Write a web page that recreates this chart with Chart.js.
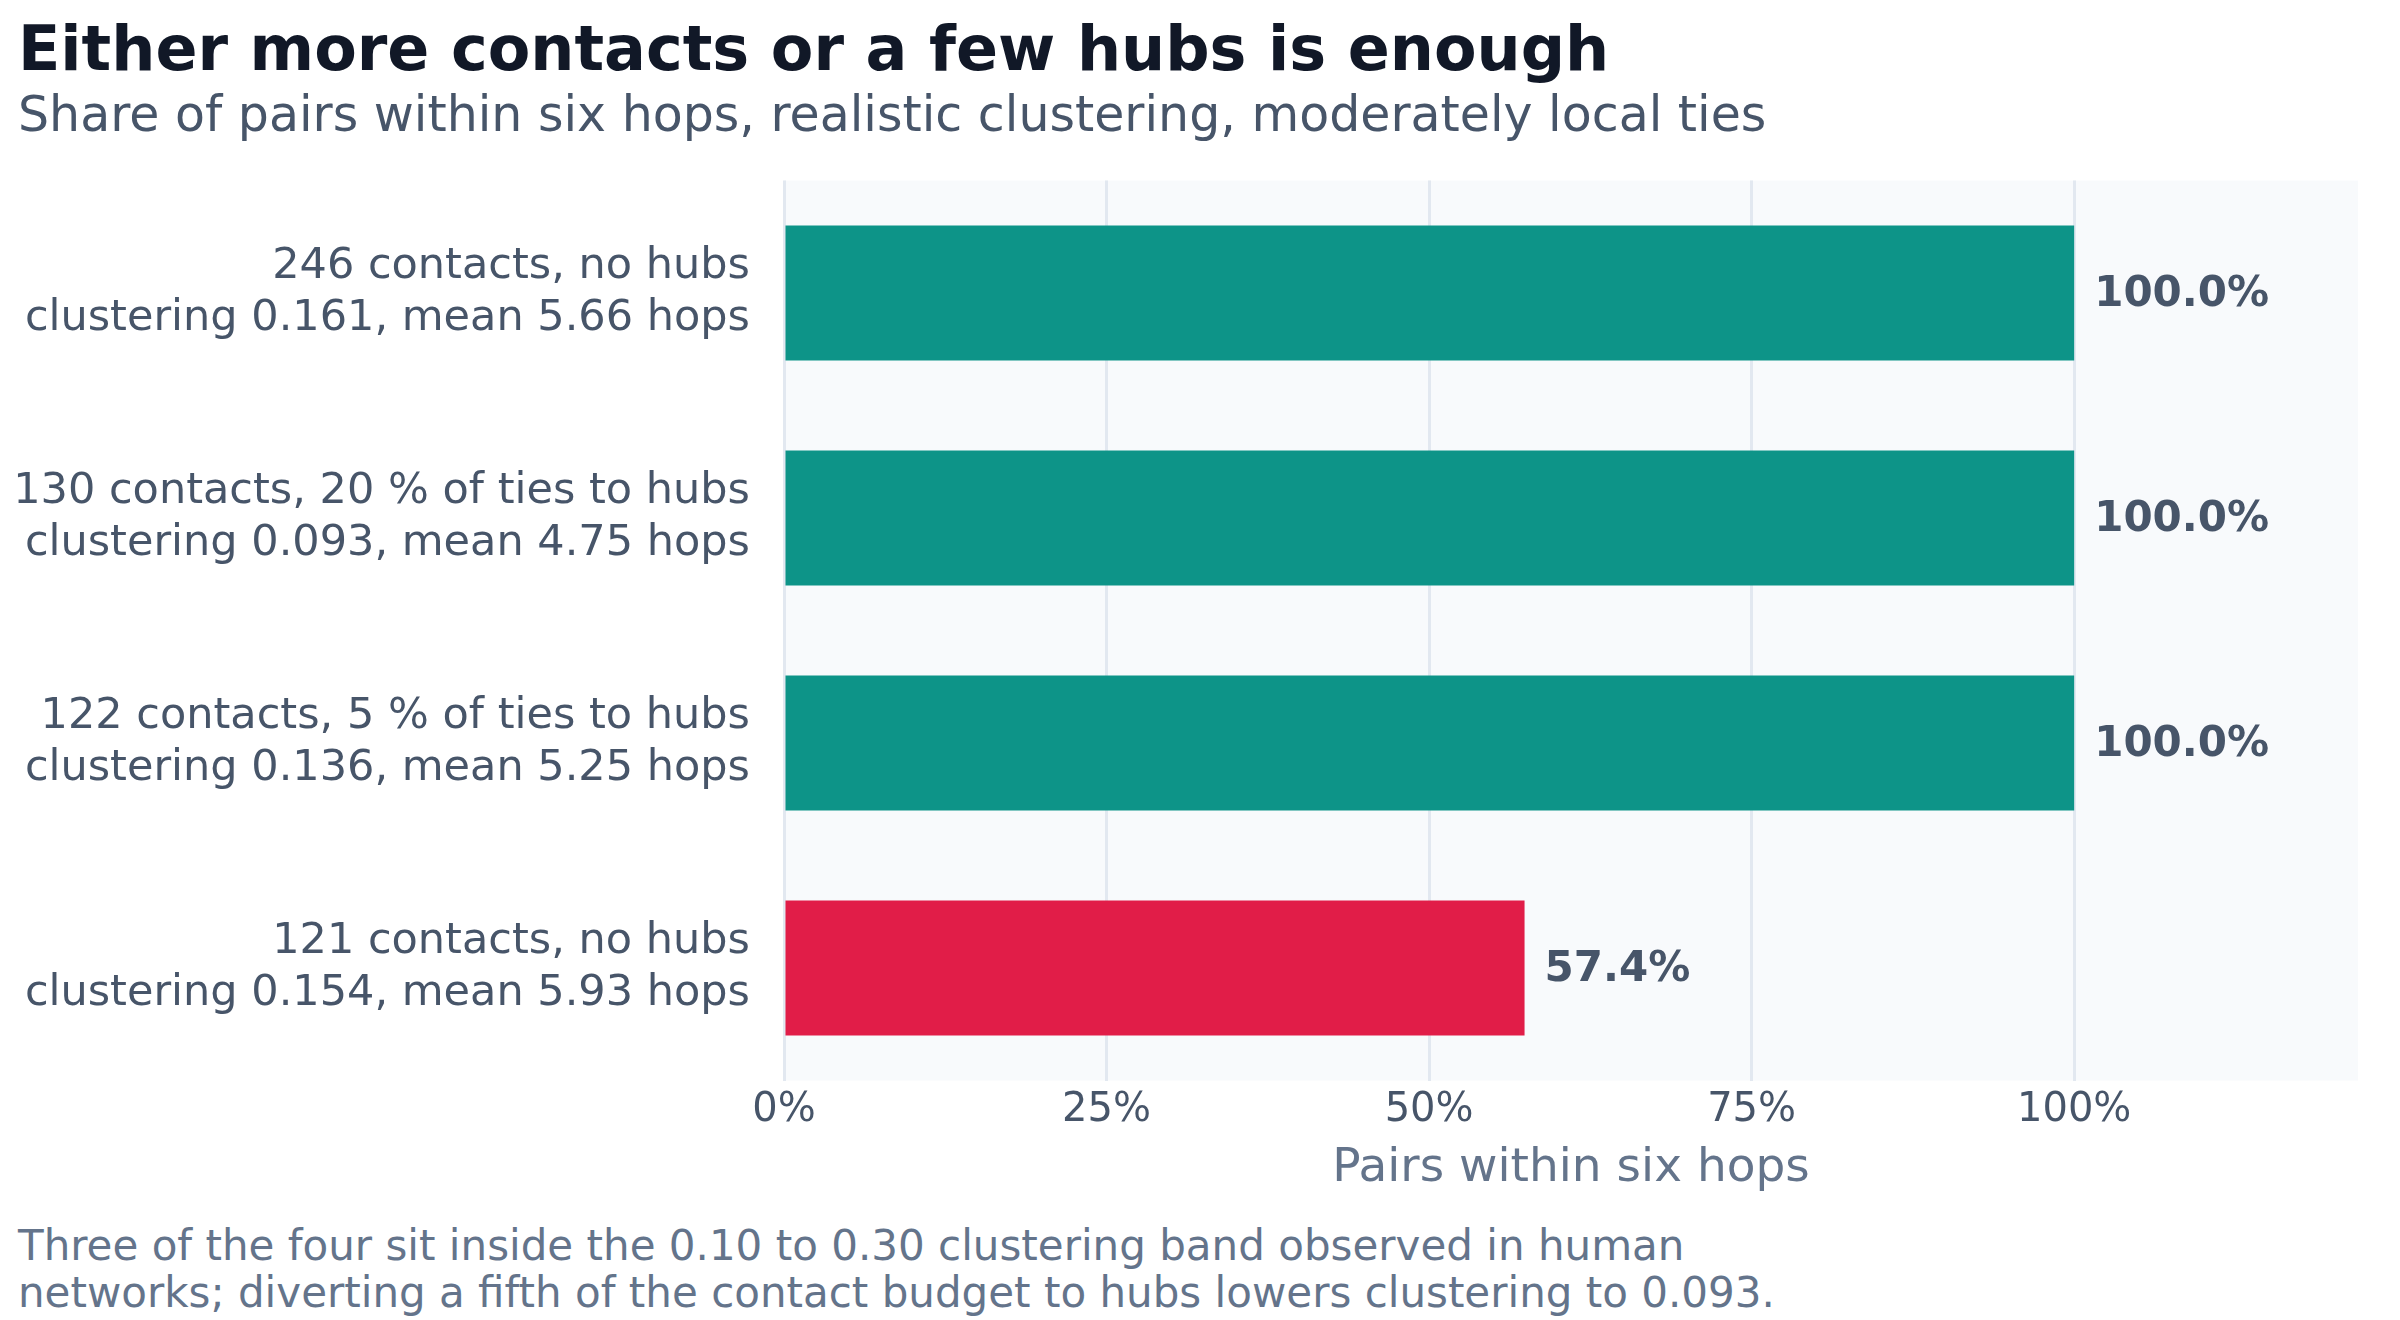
<!DOCTYPE html>
<html><head><meta charset="utf-8">
<script src="https://cdn.jsdelivr.net/npm/chart.js@4"></script>
<style>
body{margin:0;width:2400px;height:1320px;background:#fff;font-family:"DejaVu Sans",sans-serif;position:relative;overflow:hidden}
#t{position:absolute;left:18px;top:12px;font-size:62px;font-weight:bold;color:#111827}
#s{position:absolute;left:18px;top:86px;font-size:49px;color:#475569}
#f{position:absolute;left:18px;top:1222px;font-size:42px;line-height:47px;color:#64748b}
#w{position:absolute;left:0;top:103px;width:2400px;height:1098px}
</style></head><body>
<div id="t">Either more contacts or a few hubs is enough</div>
<div id="s">Share of pairs within six hops, realistic clustering, moderately local ties</div>
<div id="w"><canvas id="c"></canvas></div>
<div id="f">Three of the four sit inside the 0.10 to 0.30 clustering band observed in human<br>networks; diverting a fifth of the contact budget to hubs lowers clustering to 0.093.</div>
<script>
const categories=[["246 contacts, no hubs","clustering 0.161, mean 5.66 hops"],["130 contacts, 20 % of ties to hubs","clustering 0.093, mean 4.75 hops"],["122 contacts, 5 % of ties to hubs","clustering 0.136, mean 5.25 hops"],["121 contacts, no hubs","clustering 0.154, mean 5.93 hops"]];
const values=[1.0,1.0,1.0,0.574];
const colors=["#0d9488","#0d9488","#0d9488","#e11d48"];
const tickValues=[0,0.25,0.5,0.75,1.0];
const bg={id:'bg',beforeDraw(c){const a=c.chartArea,x=c.ctx;x.save();x.fillStyle='#f8fafc';x.fillRect(a.left,a.top,a.right-a.left,a.bottom-a.top);x.restore();}};
const lbl={id:'lbl',afterDatasetsDraw(c){const x=c.ctx;x.save();x.font='bold 42px "DejaVu Sans"';x.fillStyle='#475569';x.textBaseline='middle';c.getDatasetMeta(0).data.forEach((b,i)=>{x.fillText((values[i]*100).toFixed(1)+'%',b.x+20,b.y+2);});x.restore();}};
new Chart(document.getElementById('c'),{type:'bar',data:{labels:categories,datasets:[{data:values,backgroundColor:colors,categoryPercentage:0.6,barPercentage:1}]},
options:{indexAxis:'y',responsive:true,maintainAspectRatio:false,animation:false,
layout:{padding:{left:0,right:42,top:20,bottom:0}},
plugins:{legend:{display:false},tooltip:{enabled:false}},
scales:{x:{min:0,max:1.22,afterBuildTicks(s){s.ticks=tickValues.map(v=>({value:v}));},
ticks:{font:{size:40,family:'DejaVu Sans'},color:'#475569',padding:6,callback:v=>Math.round(v*100)+'%'},
grid:{color:'#e2e8f0',lineWidth:3,drawTicks:false},border:{display:false},
title:{display:true,text:'Pairs within six hops',font:{size:47,family:'DejaVu Sans'},color:'#64748b',padding:{top:0}}},
y:{ticks:{font:{size:43,family:'DejaVu Sans'},color:'#475569',padding:26},grid:{display:false},border:{display:false},
afterFit(s){s.width=784;}}}},
plugins:[bg,lbl]});
</script></body></html>
